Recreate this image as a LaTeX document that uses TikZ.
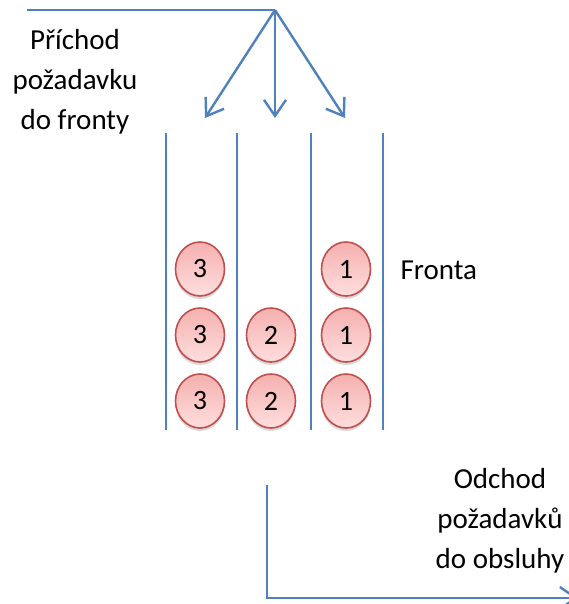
\documentclass[tikz,border=0pt]{standalone}
\usepackage{fontspec}
\setmainfont{Carlito}
\usetikzlibrary{arrows.meta,shadows,shapes.geometric}

\definecolor{flowblue}{RGB}{79,129,189}
\definecolor{reqedge}{RGB}{192,80,77}
\definecolor{reqtop}{RGB}{244,176,175}
\definecolor{reqbottom}{RGB}{255,222,222}

\begin{document}
\begin{tikzpicture}[
    x=1pt, y=-1pt,
    flow/.style={draw=flowblue, line width=2pt},
    arr/.style={flow, line width=2.4pt, -{Straight Barb[length=16pt, width=22pt, line width=2.4pt]}},
    lane/.style={draw=flowblue, line width=2pt},
    label/.style={align=center, text=black, font=\fontsize{29}{40}\selectfont},
    req/.style={ellipse, minimum width=49pt, minimum height=54pt, inner sep=0pt,
        draw=reqedge, line width=1.6pt, top color=reqtop, bottom color=reqbottom,
        drop shadow={shadow xshift=0pt, shadow yshift=-3pt, opacity=0.25, fill=black!60},
        font=\fontsize{28}{30}\selectfont}
]
    \useasboundingbox (0,0) rectangle (569,604);

    % 1. Incoming requests
    \coordinate (in) at (27,10);
    \coordinate (split) at (275,10);
    \coordinate (q3top) at (205,118);
    \coordinate (q2top) at (275,118);
    \coordinate (q1top) at (345,118);
    \draw[flow] (in) -- (split);
    \draw[arr] (split) -- (q3top);
    \draw[arr] (split) -- (q2top);
    \draw[arr] (split) -- (q1top);
    \node[label] (arrival) at (75,82) {Příchod\\požadavku\\do fronty};

    % 2. Queue lanes
    \foreach \x in {166,237,311,383}
        \draw[lane] (\x,133) -- (\x,430);

    % 3. Requests waiting in the queue
    \node[req] (r31) at (200,269) {3};
    \node[req] (r32) at (200,335) {3};
    \node[req] (r33) at (200,401) {3};
    \node[req] (r21) at (271,335) {2};
    \node[req] (r22) at (271,401) {2};
    \node[req] (r11) at (346,269) {1};
    \node[req] (r12) at (346,335) {1};
    \node[req] (r13) at (346,401) {1};
    \node[label, anchor=west] (queue) at (397,270) {Fronta};

    % 4. Departure to service
    \coordinate (out) at (267,485);
    \coordinate (corner) at (267,598);
    \coordinate (service) at (578,598);
    \draw[arr, line width=2pt] (out) -- (corner) -- (service);
    \node[label] (departure) at (500,521) {Odchod\\požadavků\\do obsluhy};
\end{tikzpicture}
\end{document}
